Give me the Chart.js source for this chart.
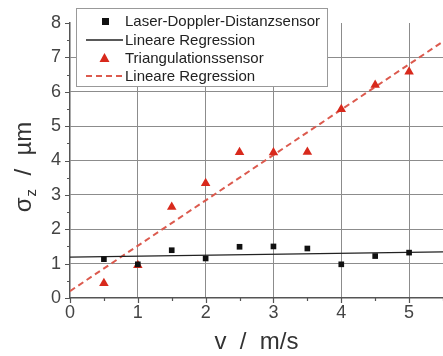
<!DOCTYPE html>
<html>
<head>
<meta charset="utf-8">
<script src="https://cdn.jsdelivr.net/npm/chart.js@4/dist/chart.umd.min.js"></script>
<style>
  html, body { margin: 0; padding: 0; background: #fff; }
</style>
</head>
<body>
<canvas id="chartSigma" width="443" height="356"></canvas>
<script>
const speeds = [0.5, 1, 1.5, 2, 2.5, 3, 3.5, 4, 4.5, 5];
const laserDoppler = [1.13, 0.98, 1.39, 1.15, 1.49, 1.5, 1.44, 0.98, 1.22, 1.32];
const triangulation = [0.43, 0.95, 2.65, 3.34, 4.24, 4.23, 4.25, 5.49, 6.2, 6.58];
// Regressionsgeraden, Endpunkte
const regX = [0, 5.5];
const laserReg = [1.19, 1.34];
const triReg = [0.2, 7.46];
const legendLabels = ['Laser-Doppler-Distanzsensor', 'Lineare Regression', 'Triangulationssensor', 'Lineare Regression'];
const xTitle = 'v  /  m/s';
const yTitle = ['\u03C3', 'z', '  /  \u00B5m'];

const FONT = "'Liberation Sans', Arial, sans-serif";
const RED = '#d8291c';
const RED_LINE = '#dc5a4e';

function pts(xs, ys) {
    return xs.map((x, i) => ({ x: x, y: ys[i] }));
}

const extras = {
    id: 'extras',
    afterDraw(chart) {
        const ctx = chart.ctx;
        const xs = chart.scales.x, ys = chart.scales.y;
        const area = chart.chartArea;
        ctx.save();
        // Haupt- und Nebenstriche
        ctx.strokeStyle = '#555';
        ctx.lineWidth = 1.2;
        ctx.beginPath();
        for (let v = 0; v <= 5.5001; v += 0.5) {
            const px = Math.round(xs.getPixelForValue(v)) + 0.5;
            const len = Number.isInteger(v) ? 5 : 3;
            ctx.moveTo(px, area.bottom);
            ctx.lineTo(px, area.bottom + len);
        }
        for (let v = 0; v <= 8.0001; v += 0.5) {
            const py = Math.round(ys.getPixelForValue(v)) + 0.5;
            const len = Number.isInteger(v) ? 5 : 3;
            ctx.moveTo(area.left, py);
            ctx.lineTo(area.left - len, py);
        }
        ctx.stroke();

        // Legende
        const lx = 76, ly = 8, lw = 251, lh = 78;
        ctx.fillStyle = '#fff';
        ctx.fillRect(lx, ly, lw, lh);
        ctx.strokeStyle = '#999';
        ctx.lineWidth = 1;
        ctx.strokeRect(lx + 0.5, ly + 0.5, lw, lh);
        const rows = [21, 40, 58, 76];
        ctx.font = '15px ' + FONT;
        ctx.fillStyle = '#222';
        ctx.textBaseline = 'middle';
        ctx.textAlign = 'left';
        legendLabels.forEach((t, i) => ctx.fillText(t, 125, rows[i] + 1));
        // Symbole
        ctx.fillStyle = '#111';
        ctx.fillRect(102, rows[0] - 3, 7, 7);
        ctx.strokeStyle = '#222';
        ctx.lineWidth = 1.3;
        ctx.beginPath();
        ctx.moveTo(86, rows[1]); ctx.lineTo(123, rows[1]);
        ctx.stroke();
        ctx.fillStyle = RED;
        ctx.beginPath();
        ctx.moveTo(104.5, rows[2] - 5); ctx.lineTo(109.5, rows[2] + 4); ctx.lineTo(99.5, rows[2] + 4);
        ctx.closePath();
        ctx.fill();
        ctx.strokeStyle = RED_LINE;
        ctx.lineWidth = 2;
        ctx.setLineDash([6, 4]);
        ctx.beginPath();
        ctx.moveTo(86, rows[3]); ctx.lineTo(123, rows[3]);
        ctx.stroke();
        ctx.setLineDash([]);

        // Achsentitel
        ctx.fillStyle = '#333';
        ctx.font = '24px ' + FONT;
        ctx.textAlign = 'center';
        ctx.textBaseline = 'middle';
        ctx.fillText(xTitle, (area.left + area.right) / 2, 342);

        ctx.translate(23, (area.top + area.bottom) / 2 + 4);
        ctx.rotate(-Math.PI / 2);
        ctx.textAlign = 'left';
        ctx.textBaseline = 'alphabetic';
        ctx.font = '24px ' + FONT;
        const w0 = ctx.measureText(yTitle[0]).width;
        const w2 = ctx.measureText(yTitle[2]).width;
        ctx.font = '15px ' + FONT;
        const w1 = ctx.measureText(yTitle[1]).width;
        let x0 = -(w0 + w1 + w2) / 2 - 3;
        ctx.font = '24px ' + FONT;
        ctx.fillText(yTitle[0], x0, 8);
        ctx.font = '15px ' + FONT;
        ctx.fillText(yTitle[1], x0 + w0 + 1, 13);
        ctx.font = '24px ' + FONT;
        ctx.fillText(yTitle[2], x0 + w0 + w1 + 1, 8);
        ctx.restore();
    }
};

const gridColor = (max) => (c) => {
    const v = c.tick.value;
    return (Number.isInteger(v) && v > 0 && v < max) ? '#8c8c8c' : 'rgba(0,0,0,0)';
};

const ctx = document.getElementById('chartSigma').getContext('2d');
const chart = new Chart(ctx, {
    type: 'scatter',
    data: {
        datasets: [{
            label: legendLabels[0],
            data: pts(speeds, laserDoppler),
            pointStyle: 'rect',
            pointRadius: 4,
            backgroundColor: '#111',
            borderColor: '#111',
            borderWidth: 0
        }, {
            label: legendLabels[1],
            data: pts(regX, laserReg),
            showLine: true,
            pointRadius: 0,
            borderColor: '#222',
            borderWidth: 1.3
        }, {
            label: legendLabels[2],
            data: pts(speeds, triangulation),
            pointStyle: 'triangle',
            pointRadius: 5.5,
            backgroundColor: RED,
            borderColor: RED,
            borderWidth: 0
        }, {
            label: legendLabels[3],
            data: pts(regX, triReg),
            showLine: true,
            pointRadius: 0,
            borderColor: RED_LINE,
            borderWidth: 2,
            borderDash: [6, 4]
        }]
    },
    options: {
        responsive: false,
        animation: false,
        layout: { autoPadding: false, padding: { top: 23, right: 0, left: 0, bottom: 0 } },
        plugins: {
            legend: { display: false },
            tooltip: { enabled: false }
        },
        scales: {
            x: {
                type: 'linear',
                min: 0,
                max: 5.5,
                afterFit: (s) => { s.height = 58; s.paddingRight = 0; },
                ticks: {
                    stepSize: 1,
                    includeBounds: false,
                    autoSkip: false,
                    maxRotation: 0,
                    padding: 4,
                    color: '#444',
                    font: { family: FONT, size: 18 }
                },
                grid: { color: gridColor(5.5), drawTicks: false, lineWidth: 1 },
                border: { color: '#555', width: 1.5 }
            },
            y: {
                min: 0,
                max: 8,
                afterFit: (s) => { s.width = 70; },
                ticks: {
                    stepSize: 1,
                    padding: 9,
                    color: '#444',
                    font: { family: FONT, size: 18 }
                },
                grid: { color: gridColor(8), drawTicks: false, lineWidth: 1 },
                border: { color: '#555', width: 1.5 }
            }
        }
    },
    plugins: [extras]
});
</script>
</body>
</html>
